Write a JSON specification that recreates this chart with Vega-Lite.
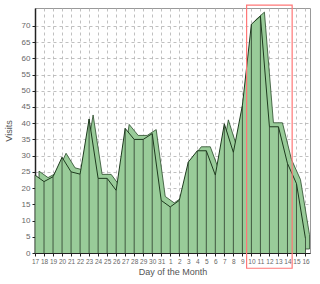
{
  "$schema": "https://vega.github.io/schema/vega-lite/v6.json",
  "width": 275,
  "height": 245,
  "autosize": {"type": "none"},
  "padding": {"left": 35, "top": 8, "right": 10, "bottom": 31},
  "background": "white",
  "config": {
    "view": {"stroke": "#999999", "strokeWidth": 1},
    "axis": {
      "labelFont": "Liberation Sans",
      "titleFont": "Liberation Sans",
      "labelFontSize": 8,
      "titleFontSize": 9,
      "titleFontWeight": "normal",
      "labelColor": "#555555",
      "titleColor": "#555555",
      "domainColor": "#222222",
      "tickColor": "#222222",
      "tickSize": 3,
      "gridColor": "#b0b0b0",
      "gridDash": [3, 3],
      "gridWidth": 0.8,
      "labelOverlap": false,
      "labelFlush": false
    }
  },
  "datasets": {
    "visits": [
      {"idx": 0, "day": 17, "v": 24},
      {"idx": 1, "day": 18, "v": 22},
      {"idx": 2, "day": 19, "v": 23.5},
      {"idx": 3, "day": 20, "v": 29.5},
      {"idx": 4, "day": 21, "v": 25},
      {"idx": 5, "day": 22, "v": 24.3},
      {"idx": 6, "day": 23, "v": 41.3},
      {"idx": 7, "day": 24, "v": 23},
      {"idx": 8, "day": 25, "v": 23},
      {"idx": 9, "day": 26, "v": 19.3},
      {"idx": 10, "day": 27, "v": 38.4},
      {"idx": 11, "day": 28, "v": 35},
      {"idx": 12, "day": 29, "v": 35},
      {"idx": 13, "day": 30, "v": 36.8},
      {"idx": 14, "day": 31, "v": 16.2},
      {"idx": 15, "day": 1, "v": 14.2},
      {"idx": 16, "day": 2, "v": 16.2},
      {"idx": 17, "day": 3, "v": 28},
      {"idx": 18, "day": 4, "v": 31.5},
      {"idx": 19, "day": 5, "v": 31.5},
      {"idx": 20, "day": 6, "v": 24},
      {"idx": 21, "day": 7, "v": 39.8},
      {"idx": 22, "day": 8, "v": 31},
      {"idx": 23, "day": 9, "v": 45.5},
      {"idx": 24, "day": 10, "v": 70.5},
      {"idx": 25, "day": 11, "v": 73},
      {"idx": 26, "day": 12, "v": 38.9},
      {"idx": 27, "day": 13, "v": 38.9},
      {"idx": 28, "day": 14, "v": 27.6},
      {"idx": 29, "day": 15, "v": 21.4},
      {"idx": 30, "day": 16, "v": 4.4}
    ],
    "highlight": [
      {"idx": 23.47, "idx2": 28.52, "v": -4.7, "v2": 76.4}
    ]
  },
  "encoding": {
    "x": {
      "field": "idx", "type": "quantitative",
      "scale": {"domain": [0, 30.5], "nice": false, "zero": false},
      "axis": {
        "title": "Day of the Month",
        "values": [0,1,2,3,4,5,6,7,8,9,10,11,12,13,14,15,16,17,18,19,20,21,22,23,24,25,26,27,28,29,30],
        "labelExpr": "datum.value < 15 ? datum.value + 17 : datum.value - 14",
        "labelPadding": 2,
        "titlePadding": 3,
        "labelFontSize": 6.5,
        "labelColor": "#666666",
        "grid": true
      }
    },
    "y": {
      "field": "v", "type": "quantitative",
      "scale": {"domain": [0, 75.5], "nice": false},
      "axis": {
        "title": "Visits",
        "values": [0,5,10,15,20,25,30,35,40,45,50,55,60,65,70],
        "labelPadding": 2,
        "titlePadding": 8,
        "labelColor": "#666666",
        "domainWidth": 1.5,
        "grid": true
      }
    }
  },
  "layer": [
    {
      "data": {"name": "visits"},
      "mark": {"type": "area", "xOffset": 4, "yOffset": -4, "color": "#99cc99", "opacity": 1, "stroke": "#2a4a2a", "strokeWidth": 0.8}
    },
    {
      "data": {"name": "visits"},
      "mark": {"type": "area", "color": "#99cc99", "opacity": 1}
    },
    {
      "data": {"name": "visits"},
      "mark": {"type": "rule", "color": "#2b3b2b", "strokeWidth": 0.8},
      "encoding": {
        "y2": {"datum": 0}
      }
    },
    {
      "data": {"name": "visits"},
      "mark": {"type": "line", "color": "#1e3a1e", "strokeWidth": 1}
    },
    {
      "data": {"name": "highlight"},
      "mark": {"type": "rect", "filled": false, "color": "#ff7777", "strokeWidth": 1.2, "clip": false},
      "encoding": {
        "x2": {"field": "idx2"},
        "y2": {"field": "v2"}
      }
    }
  ]
}
